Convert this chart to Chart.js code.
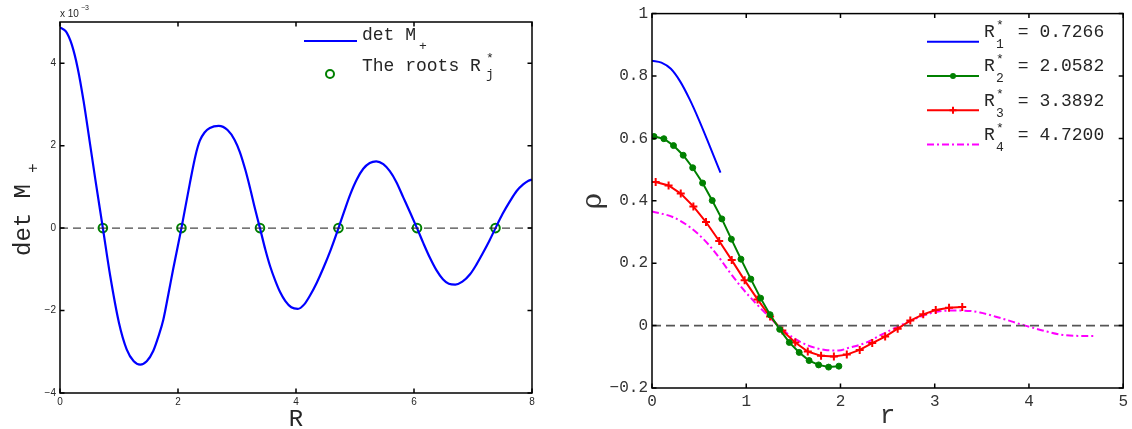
<!DOCTYPE html>
<html><head><meta charset="utf-8">
<script src="https://cdn.jsdelivr.net/npm/chart.js@4.4.1/dist/chart.umd.min.js"></script>
<style>
html,body{margin:0;padding:0;background:#fff;width:1132px;height:429px;overflow:hidden}
#c1{position:absolute;left:0;top:0}
#c2{position:absolute;left:566px;top:0}
</style></head><body>
<canvas id="c1" width="566" height="429"></canvas>
<canvas id="c2" width="566" height="429"></canvas>
<script>
// ---------- Left panel data (det M+, in units of 1e-3) ----------
const detR = [0, 0.1, 0.2, 0.3, 0.4, 0.5, 0.6, 0.7266, 0.85, 1.0, 1.13, 1.25, 1.36, 1.47, 1.58, 1.67, 1.75, 1.84, 1.92, 2.0582,
  2.2, 2.3, 2.37, 2.45, 2.54, 2.69, 2.84, 2.96, 3.05, 3.14, 3.22, 3.3, 3.3892,
  3.48, 3.56, 3.65, 3.73, 3.82, 3.92, 4.03, 4.14, 4.24, 4.35, 4.46, 4.59, 4.72,
  4.82, 4.92, 5.03, 5.14, 5.25, 5.36, 5.48, 5.59, 5.70, 5.82, 5.94, 6.0508,
  6.16, 6.27, 6.38, 6.49, 6.59, 6.70, 6.82, 6.95, 7.06, 7.17, 7.28, 7.3815,
  7.5, 7.63, 7.74, 7.85, 7.94, 8.0];
const detVal = [4.87, 4.77, 4.45, 3.88, 3.08, 2.13, 1.17, 0, -1.15, -2.30, -2.94, -3.23, -3.31, -3.23, -2.98, -2.62, -2.23, -1.58, -0.98, 0,
  1.08, 1.78, 2.12, 2.32, 2.43, 2.48, 2.38, 2.14, 1.84, 1.42, 0.98, 0.50, 0,
  -0.52, -0.92, -1.28, -1.55, -1.77, -1.92, -1.96, -1.85, -1.63, -1.33, -0.98, -0.52, 0,
  0.42, 0.82, 1.18, 1.44, 1.58, 1.62, 1.55, 1.38, 1.12, 0.74, 0.36, 0,
  -0.37, -0.72, -1.02, -1.24, -1.35, -1.37, -1.30, -1.12, -0.88, -0.60, -0.30, 0,
  0.34, 0.66, 0.90, 1.06, 1.15, 1.18];
const rootsR = [0.7266, 2.0582, 3.3892, 4.7200, 6.0508, 7.3815];
const leftZeroX = [0, 8];
const leftXTicks = [0, 2, 4, 6, 8];
const leftYTicks = [-4, -2, 0, 2, 4];

// ---------- Right panel data (rho vs r) ----------
const r1 = [0, 0.1, 0.2, 0.3, 0.4, 0.5, 0.6, 0.7266];
const rho1 = [0.849, 0.843, 0.823, 0.782, 0.725, 0.658, 0.585, 0.490];
const r2 = [0.021,0.126,0.228,0.331,0.432,0.537,0.639,0.741,0.842,0.944,1.049,1.152,1.253,1.355,1.457,1.562,1.667,1.768,1.874,1.983];
const rho2 = [0.606,0.599,0.577,0.546,0.506,0.457,0.401,0.342,0.277,0.213,0.149,0.088,0.035,-0.012,-0.054,-0.086,-0.112,-0.126,-0.133,-0.130];
const r3 = [0.039,0.176,0.305,0.439,0.573,0.713,0.846,0.983,1.120,1.253,1.383,1.520,1.653,1.794,1.930,2.067,2.204,2.337,2.474,2.607,2.741,2.878,3.011,3.152,3.292];
const rho3 = [0.460,0.449,0.423,0.382,0.332,0.271,0.210,0.145,0.084,0.029,-0.016,-0.054,-0.083,-0.097,-0.099,-0.093,-0.078,-0.056,-0.035,-0.010,0.016,0.036,0.050,0.057,0.060];
const r4 = [0, 0.22, 0.40, 0.54, 0.68, 0.82, 0.96, 1.10, 1.24, 1.34, 1.48, 1.66, 1.84, 1.98, 2.08, 2.26, 2.43, 2.61, 2.78, 2.96, 3.13, 3.31, 3.48, 3.70, 3.96, 4.19, 4.36, 4.54, 4.70];
const rho4 = [0.366, 0.348, 0.316, 0.279, 0.231, 0.173, 0.119, 0.072, 0.029, -0.001, -0.035, -0.064, -0.078, -0.080, -0.072, -0.056, -0.030, -0.003, 0.020, 0.040, 0.048, 0.048, 0.042, 0.024, 0.000, -0.019, -0.030, -0.033, -0.033];
const rightZeroX = [0, 5];
const rightXTicks = [0, 1, 2, 3, 4, 5];
const rightYTicks = [-0.2, 0, 0.2, 0.4, 0.6, 0.8, 1];
const legendSub = ['1', '2', '3', '4'];
const legendVal = ['0.7266', '2.0582', '3.3892', '4.7200'];

const xy = (xs, ys) => xs.map((x, i) => ({x, y: ys[i]}));
const MONO = '"Liberation Mono", "Courier New", monospace';
const SANS = '"Liberation Sans", Helvetica, Arial, sans-serif';

function boxTicks(xTicks, yTicks, len, lw) {
  return {
    id: 'boxTicks',
    afterDatasetsDraw(chart) {
      const {ctx, chartArea: a, scales: {x, y}} = chart;
      ctx.save();
      ctx.strokeStyle = '#000';
      ctx.lineWidth = lw;
      ctx.strokeRect(a.left, a.top, a.right - a.left, a.bottom - a.top);
      ctx.beginPath();
      xTicks.forEach(v => {
        const px = x.getPixelForValue(v);
        ctx.moveTo(px, a.bottom); ctx.lineTo(px, a.bottom - len);
        ctx.moveTo(px, a.top); ctx.lineTo(px, a.top + len);
      });
      yTicks.forEach(v => {
        const py = y.getPixelForValue(v);
        ctx.moveTo(a.left, py); ctx.lineTo(a.left + len, py);
        ctx.moveTo(a.right, py); ctx.lineTo(a.right - len, py);
      });
      ctx.stroke();
      ctx.restore();
    }
  };
}

function fmtNum(v) {
  const s = String(Math.round(v * 1000) / 1000);
  return v < 0 ? '\u2212' + s.slice(1) : s;
}

// ---------- Left chart ----------
const leftText = {
  id: 'leftText',
  afterDraw(chart) {
    const ctx = chart.ctx;
    ctx.save();
    ctx.fillStyle = '#262626';
    ctx.textBaseline = 'alphabetic';
    ctx.textAlign = 'left';
    ctx.font = '10px ' + SANS;
    ctx.fillText('x 10', 60, 17);
    ctx.font = '7px ' + SANS;
    ctx.fillText('\u22123', 81, 10);
    ctx.font = '24px ' + MONO;
    ctx.textAlign = 'center';
    ctx.fillText('R', chart.scales.x.getPixelForValue(4), 426);
    ctx.save();
    ctx.translate(30, 256);
    ctx.rotate(-Math.PI / 2);
    ctx.textAlign = 'left';
    ctx.font = '24px ' + MONO;
    ctx.fillText('det M', 0, 0);
    ctx.font = '16px ' + MONO;
    ctx.fillText('+', 83, 8);
    ctx.restore();
    // legend
    ctx.textAlign = 'left';
    ctx.strokeStyle = '#0000ff';
    ctx.lineWidth = 2;
    ctx.beginPath(); ctx.moveTo(304, 41); ctx.lineTo(357, 41); ctx.stroke();
    ctx.font = '18px ' + MONO;
    ctx.fillText('det M', 362, 40);
    ctx.font = '13px ' + MONO;
    ctx.fillText('+', 419, 50);
    ctx.strokeStyle = '#008000';
    ctx.beginPath(); ctx.arc(330, 74, 4, 0, Math.PI * 2); ctx.stroke();
    ctx.font = '18px ' + MONO;
    ctx.fillText('The roots R', 362, 71);
    ctx.font = '13px ' + MONO;
    ctx.fillText('*', 486, 62);
    ctx.fillText('j', 486, 78);
    ctx.restore();
  }
};

new Chart(document.getElementById('c1'), {
  type: 'line',
  data: {
    datasets: [
      {data: xy(leftZeroX, [0, 0]), borderColor: 'rgba(40,40,40,0.85)', borderWidth: 1.3, borderDash: [8, 5], pointRadius: 0},
      {data: xy(detR, detVal), borderColor: '#0000ff', borderWidth: 2.2, pointRadius: 0, cubicInterpolationMode: 'monotone'},
      {data: xy(rootsR, rootsR.map(() => 0)), showLine: false, pointRadius: 4.3, pointBorderWidth: 2, pointBorderColor: '#008000', pointBackgroundColor: 'rgba(0,0,0,0)'}
    ]
  },
  options: {
    responsive: false, animation: false, devicePixelRatio: 1,
    layout: {padding: {top: 22, right: 34, left: 0, bottom: 0}},
    plugins: {legend: {display: false}, tooltip: {enabled: false}},
    scales: {
      x: {
        type: 'linear', min: 0, max: 8,
        afterBuildTicks: s => { s.ticks = leftXTicks.map(v => ({value: v})); },
        afterFit: s => { s.height = 36; },
        grid: {display: false, drawTicks: false}, border: {display: false},
        ticks: {padding: 3, font: {family: SANS, size: 10}, color: '#262626', maxRotation: 0, autoSkip: false, callback: v => fmtNum(v)}
      },
      y: {
        type: 'linear', min: -4, max: 5,
        afterBuildTicks: s => { s.ticks = leftYTicks.map(v => ({value: v})); },
        afterFit: s => { s.width = 60; },
        grid: {display: false, drawTicks: false}, border: {display: false},
        ticks: {padding: 4, font: {family: SANS, size: 10}, color: '#262626', autoSkip: false, callback: v => fmtNum(v)}
      }
    }
  },
  plugins: [boxTicks(leftXTicks, leftYTicks, 4.5, 1.5), leftText]
});

// ---------- Right chart ----------
const rightText = {
  id: 'rightText',
  afterDraw(chart) {
    const ctx = chart.ctx;
    const ox = 566;
    ctx.save();
    ctx.fillStyle = '#333';
    ctx.textAlign = 'center';
    ctx.font = '26px ' + MONO;
    ctx.fillText('r', chart.scales.x.getPixelForValue(2.5), 423);
    ctx.save();
    ctx.translate(601 - ox, 201);
    ctx.rotate(-Math.PI / 2);
    ctx.font = '28px "DejaVu Serif", serif';
    ctx.fillText('\u03c1', 0, 0);
    ctx.restore();
    const colors = ['#0000ff', '#008000', '#ff0000', '#ff00ff'];
    ctx.textAlign = 'left';
    for (let i = 0; i < 4; i++) {
      const base = 37 + 34.3 * i;
      const ly = base + 4.7;
      ctx.strokeStyle = colors[i];
      ctx.lineWidth = 2;
      ctx.setLineDash(i === 3 ? [7, 3, 2, 3] : []);
      ctx.beginPath(); ctx.moveTo(927 - ox, ly); ctx.lineTo(979 - ox, ly); ctx.stroke();
      ctx.setLineDash([]);
      if (i === 1) {
        ctx.fillStyle = colors[1];
        ctx.beginPath(); ctx.arc(953 - ox, ly, 3, 0, Math.PI * 2); ctx.fill();
      }
      if (i === 2) {
        ctx.beginPath();
        ctx.moveTo(953 - ox - 3.5, ly); ctx.lineTo(953 - ox + 3.5, ly);
        ctx.moveTo(953 - ox, ly - 3.5); ctx.lineTo(953 - ox, ly + 3.5);
        ctx.stroke();
      }
      ctx.fillStyle = '#262626';
      ctx.font = '18px ' + MONO;
      ctx.fillText('R', 984 - ox, base);
      ctx.font = '13px ' + MONO;
      ctx.fillText('*', 996 - ox, base - 8);
      ctx.fillText(legendSub[i], 996 - ox, base + 11);
      ctx.font = '18px ' + MONO;
      ctx.fillText(' = ' + legendVal[i], 1007 - ox, base);
    }
    ctx.restore();
  }
};

new Chart(document.getElementById('c2'), {
  type: 'line',
  data: {
    datasets: [
      {data: xy(rightZeroX, [0, 0]), borderColor: '#555', borderWidth: 1.6, borderDash: [9, 5], pointRadius: 0},
      {data: xy(r1, rho1), borderColor: '#0000ff', borderWidth: 2, pointRadius: 0, cubicInterpolationMode: 'monotone'},
      {data: xy(r2, rho2), borderColor: '#008000', borderWidth: 2, pointRadius: 3, pointStyle: 'circle', pointBackgroundColor: '#008000', pointBorderColor: '#008000', pointBorderWidth: 1},
      {data: xy(r3, rho3), borderColor: '#ff0000', borderWidth: 2, pointRadius: 4, pointStyle: 'cross', pointBorderColor: '#ff0000', pointBorderWidth: 2},
      {data: xy(r4, rho4), borderColor: '#ff00ff', borderWidth: 2, borderDash: [7, 3, 2, 3], pointRadius: 0, cubicInterpolationMode: 'monotone'}
    ]
  },
  options: {
    responsive: false, animation: false, devicePixelRatio: 1,
    layout: {padding: {top: 12, right: 5, left: 0, bottom: 0}},
    plugins: {legend: {display: false}, tooltip: {enabled: false}},
    scales: {
      x: {
        type: 'linear', min: 0, max: 5,
        afterBuildTicks: s => { s.ticks = rightXTicks.map(v => ({value: v})); },
        afterFit: s => { s.height = 41; },
        grid: {display: false, drawTicks: false}, border: {display: false},
        ticks: {padding: 4, font: {family: MONO, size: 16}, color: '#333', maxRotation: 0, autoSkip: false, callback: v => String(v)}
      },
      y: {
        type: 'linear', min: -0.2, max: 1,
        afterBuildTicks: s => { s.ticks = rightYTicks.map(v => ({value: v})); },
        afterFit: s => { s.width = 86; },
        grid: {display: false, drawTicks: false}, border: {display: false},
        ticks: {padding: 4, font: {family: MONO, size: 16}, color: '#333', autoSkip: false, callback: v => String(Math.round(v * 10) / 10).replace('-', '\u2212')}
      }
    }
  },
  plugins: [boxTicks(rightXTicks, rightYTicks, 4.5, 1.5), rightText]
});
</script>
</body></html>
